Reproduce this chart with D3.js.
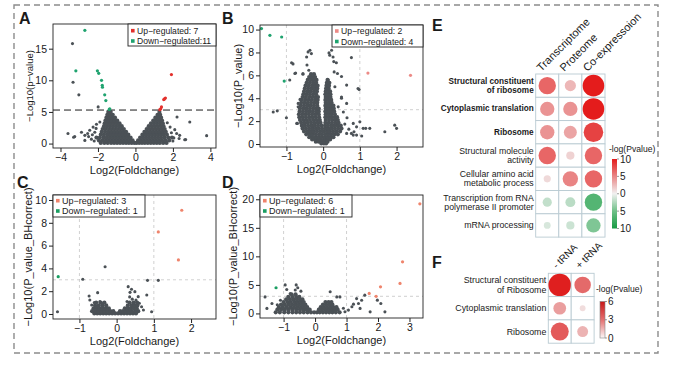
<!DOCTYPE html>
<html>
<head>
<meta charset="utf-8">
<script src="https://cdn.jsdelivr.net/npm/d3@7"></script>
<style>
  body { margin: 0; background: #fff; }
  text { font-family: "Liberation Sans", Arial, sans-serif; fill: #1a1a1a; }
</style>
</head>
<body>
<svg id="fig" width="680" height="371"></svg>
<script>
// ---------- DATA ----------
// A : transcriptome volcano, -log10(p-value)
const aUp = [[1.92,10.9],[1.6,7.2],[1.55,7.05],[1.51,6.95],[1.39,5.8],[1.35,5.5],[1.3,5.35]];
const aDown = [[-2.7,17.9],[-3.18,11.5],[-2.03,11.5],[-1.96,11.1],[-1.81,10.0],[-1.77,9.2],[-1.76,8.9],
  [-1.64,7.7],[-1.58,6.8],[-1.4,5.4],[-1.37,5.5]];
const aOutliers = [[-3.36,15.8],[-3.33,9.7],[-3.02,7.7],[-1.99,5.8],[-3.6,1.6],[-3.3,1.0],[-3.24,1.1],
  [-2.88,1.8],[-2.7,1.3],[-2.5,1.1],[-2.44,2.1],[-2.26,2.6],[-2.17,1.8],[-2.08,3.05],[-1.9,3.4],[-2.7,0.5],
  [-2.35,0.7],[-2.55,1.6],[-2.3,1.4],[-2.1,2.4],[-2.2,0.4],[2.22,4.2],[2.1,2.2],[2.9,3.4],[2.33,0.8],
  [2.68,0.63],[1.92,1.7],[3.8,1.25],[2.36,1.3],[2.63,0.6],[2.05,0.9],[2.2,1.6],[1.85,2.6],[1.7,3.3],[2.0,0.4]];
const aCloud = [
  [0.1, [-1.85,-1.66,-1.48,-1.3,-1.14,-0.98,-0.82,-0.66,-0.5,-0.35,-0.2,-0.06,0.06,0.2,0.35,0.5,0.66,0.82,0.98,1.14,1.3,1.48,1.66]],
  [0.5, [-1.95,-1.76,-1.58,-1.42,-1.26,-1.1,-0.94,-0.78,-0.62,-0.46,-0.3,-0.15,0.14,0.3,0.46,0.62,0.78,0.94,1.1,1.26,1.42,1.6,1.8]],
  [0.95,[-2.08,-1.9,-1.7,-1.53,-1.37,-1.21,-1.05,-0.89,-0.73,-0.57,-0.41,-0.26,0.25,0.41,0.57,0.73,0.89,1.05,1.21,1.37,1.55,1.75,1.95]],
  [1.4, [-1.85,-1.68,-1.5,-1.33,-1.17,-1.01,-0.85,-0.69,-0.53,-0.38,0.37,0.53,0.69,0.85,1.01,1.17,1.33,1.5,1.68]],
  [1.85,[-1.8,-1.62,-1.45,-1.29,-1.13,-0.97,-0.81,-0.65,-0.5,0.48,0.64,0.8,0.96,1.12,1.28,1.45,1.62]],
  [2.3, [-1.75,-1.58,-1.41,-1.25,-1.09,-0.93,-0.77,-0.62,0.6,0.76,0.92,1.08,1.24,1.4,1.56]],
  [2.75,[-1.68,-1.52,-1.36,-1.2,-1.04,-0.88,-0.73,0.71,0.87,1.03,1.19,1.35,1.5]],
  [3.2, [-1.64,-1.48,-1.32,-1.16,-1.0,-0.85,0.83,0.99,1.15,1.31,1.46]],
  [3.65,[-1.6,-1.44,-1.28,-1.12,-0.97,0.95,1.11,1.27,1.42]],
  [4.1, [-1.55,-1.4,-1.24,-1.09,1.06,1.22,1.37]],
  [4.55,[-1.5,-1.35,-1.21,1.18,1.32]],
  [5.0, [-1.45,-1.32,1.28]]
];

// B : proteome volcano, -log10(P_value)
const bUp = [[1.22,6.2],[2.38,6.0]];
const bDown = [[-1.68,10.09],[-1.45,9.5],[-1.13,9.35],[-1.06,5.5]];
const bOutliers = [[-1.36,2.8],[-1.25,2.9],[-1.0,2.3],[-0.7,1.8],[-0.41,8.05],[-0.36,8.2],[-0.45,7.6],
  [-0.86,7.1],[-0.44,6.9],[-0.75,6.2],[-0.55,6.1],[-0.91,5.6],[-0.39,6.45],[-0.63,3.9],[-0.68,3.25],
  [0.18,7.76],[0.29,7.2],[0.36,7.1],[0.3,6.3],[0.5,5.9],[0.77,7.55],[0.23,8.2],[0.14,5.6],[0.64,5.15],
  [0.95,4.85],[0.32,5.0],[0.5,4.1],[0.41,3.25],[0.55,2.8],[0.65,2.3],[0.59,1.74],[0.82,1.8],[0.91,1.5],
  [1.09,1.37],[1.27,1.37],[0.64,0.93],[0.82,0.78],[1.05,0.7],[0.7,1.3],[1.68,1.07],[1.95,1.65],[2.0,1.37],
  [1.0,1.94],[1.16,1.37],[0.98,4.77],[0.16,7.96],[0.27,7.6],[0.39,6.16],[-0.32,7.9],[-0.82,7.0],
  [-0.77,6.16],[-0.55,6.16],[-0.68,3.55],[-0.72,1.8],[0.64,3.55],[0.5,4.0],[0.77,0.93],[0.91,0.78],[0.84,1.07]];
const bCloud = [
  [0.05,[-0.05,0.02,0.08]],
  [0.2, [-0.2,-0.12,-0.04,0.04,0.12]],
  [0.4, [-0.3,-0.22,-0.14,-0.06,0.03,0.11,0.19]],
  [0.6, [-0.38,-0.3,-0.21,-0.13,-0.05,0.04,0.12,0.2,0.28]],
  [0.85,[-0.46,-0.37,-0.29,-0.2,-0.11,-0.03,0.06,0.14,0.22,0.31,0.4]],
  [1.1, [-0.52,-0.43,-0.34,-0.26,-0.17,-0.08,0.01,0.1,0.18,0.27,0.36,0.46]],
  [1.35,[-0.56,-0.47,-0.38,-0.29,-0.2,-0.12,-0.03,0.06,0.14,0.23,0.32,0.41,0.5]],
  [1.6, [-0.58,-0.5,-0.41,-0.32,-0.23,-0.14,-0.05,0.05,0.13,0.22,0.3,0.39,0.48]],
  [1.85,[-0.6,-0.51,-0.42,-0.33,-0.24,-0.15,-0.07,0.06,0.15,0.24,0.33,0.42]],
  [2.1, [-0.63,-0.54,-0.45,-0.36,-0.27,-0.18,-0.09,0.07,0.16,0.25,0.34,0.4]],
  [2.35,[-0.65,-0.56,-0.47,-0.38,-0.29,-0.2,-0.11,0.06,0.14,0.22,0.31,0.38]],
  [2.6, [-0.66,-0.57,-0.48,-0.39,-0.3,-0.21,-0.12,0.07,0.15,0.23,0.32]],
  [2.85,[-0.64,-0.55,-0.46,-0.37,-0.28,-0.19,-0.12,0.06,0.14,0.22,0.3]],
  [3.1, [-0.63,-0.54,-0.45,-0.36,-0.27,-0.18,-0.12,0.07,0.15,0.23,0.29]],
  [3.35,[-0.61,-0.52,-0.43,-0.34,-0.25,-0.16,0.06,0.14,0.22,0.28]],
  [3.6, [-0.6,-0.51,-0.42,-0.33,-0.24,-0.16,0.07,0.15,0.23]],
  [3.85,[-0.58,-0.49,-0.4,-0.31,-0.22,-0.15,0.06,0.14,0.22]],
  [4.1, [-0.56,-0.47,-0.38,-0.29,-0.2,-0.14,0.07,0.14,0.2]],
  [4.35,[-0.54,-0.45,-0.36,-0.27,-0.19,0.06,0.13,0.2]],
  [4.6, [-0.52,-0.43,-0.34,-0.25,-0.17,0.07,0.14,0.19]],
  [4.85,[-0.5,-0.41,-0.32,-0.23,-0.16,0.08,0.15]],
  [5.1, [-0.48,-0.39,-0.3,-0.22,-0.15,0.09,0.16]],
  [5.35,[-0.45,-0.36,-0.27,-0.19,0.1,0.17]],
  [5.6, [-0.42,-0.33,-0.25,-0.18,0.12]],
  [5.85,[-0.38,-0.3,-0.22]],
  [6.1, [-0.33,-0.25]]
];

// C : -log10(P_value_BHcorrect), first comparison
const cUp = [[1.12,7.2],[1.75,9.1],[1.66,4.74]];
const cDown = [[-1.57,3.27]];
const cOutliers = [[-0.31,4.15],[-0.91,3.05],[0.83,2.95],[1.12,2.95],[-1.59,0.2],[0.81,1.67],[0.94,0.2],
  [0.58,1.52],[0.52,1.23],[0.45,0.94],[0.61,0.94],[0.67,0.64],[0.31,2.4],[0.4,2.17],[0.49,1.96],
  [-0.74,1.58],[-0.72,1.23],[-0.67,0.79],[-0.51,1.87],[-0.45,1.1],[-0.38,0.9],[-0.55,0.6],[0.72,0.35],
  [0.35,1.5],[0.42,1.3],[-0.6,1.0],[0.36,1.9],[0.28,1.1]];
const cCloud = [
  [0.05,[-0.6,-0.52,-0.44,-0.36,-0.28,-0.2,-0.12,-0.04,0.04,0.12,0.2,0.28,0.36,0.44,0.52]],
  [0.25,[-0.66,-0.57,-0.49,-0.41,-0.33,-0.25,-0.17,-0.09,0.09,0.17,0.25,0.33,0.41,0.5,0.58]],
  [0.5, [-0.62,-0.53,-0.45,-0.37,-0.29,-0.21,0.22,0.3,0.38,0.46,0.54]],
  [0.75,[-0.58,-0.48,-0.38,-0.28,0.3,0.4,0.48,0.56]],
  [1.0, [-0.55,-0.43,-0.33,0.35,0.46,0.55]]
];

// D : -log10(P_value_BHcorrect), second comparison
const dUp = [[3.33,19.2],[2.78,9.05],[2.7,5.26],[2.08,4.67],[1.72,3.5],[1.94,3.0]];
const dDown = [[-1.24,4.5]];
const dOutliers = [[-0.95,5.0],[-0.6,5.0],[-0.63,4.1],[-0.79,3.5],[-1.53,0.88],[-1.37,1.75],[-1.59,2.9],
  [0.48,3.8],[0.69,2.9],[0.79,2.9],[1.32,2.6],[1.38,1.75],[1.48,2.3],[1.58,3.2],[1.43,0.88],[1.17,1.16],
  [1.06,0.58],[1.22,1.63],[1.75,0.28],[1.98,2.33],[2.22,0.28],[2.09,1.75],[-0.55,4.5],[-1.1,2.3],
  [-1.2,1.5],[0.9,0.9],[0.95,0.3],[-0.45,3.9],[-0.9,4.2]];
const dCloud = [
  [0.2, [-1.25,-1.12,-0.98,-0.85,-0.72,-0.6,-0.48,-0.36,-0.24,-0.13,-0.03,0.06,0.15,0.25,0.35,0.45,0.55,0.66,0.78]],
  [0.65,[-1.2,-1.08,-0.96,-0.84,-0.72,-0.6,-0.48,-0.37,-0.27,-0.17,0.12,0.22,0.32,0.42,0.52,0.62,0.72]],
  [1.1, [-1.15,-1.03,-0.91,-0.79,-0.67,-0.56,-0.45,-0.35,-0.25,0.18,0.28,0.38,0.48,0.58,0.68]],
  [1.55,[-1.08,-0.96,-0.84,-0.73,-0.62,-0.51,-0.41,-0.31,0.25,0.35,0.45,0.55]],
  [2.0, [-1.0,-0.88,-0.77,-0.66,-0.55,-0.45,-0.36,0.33,0.43,0.52]],
  [2.45,[-0.92,-0.8,-0.69,-0.58,-0.48,-0.4]],
  [2.9, [-0.85,-0.72,-0.6,-0.5]],
  [3.35,[-0.75,-0.62]]
];

// E : GO terms enrichment, signed -log(Pvalue)
const eTerms = ["Structural constituent\nof ribosome", "Cytoplasmic translation", "Ribosome",
  "Structural molecule\nactivity", "Cellular amino acid\nmetabolic process",
  "Transcription from RNA\npolymerase II promoter", "mRNA processing"];
const eColumns = ["Transcriptome", "Proteome", "Co-expressoion"];
const eValues = [[6.5,2.7,10],[4.4,4.4,10],[4.4,3.6,8.2],[6.5,1.45,6.5],[1.1,5.1,6.5],[-1.8,-2.1,-6.5],[-1.0,-1.45,-4.4]];
const eLegendTicks = ["10","5","0","5","10"];

// F : tRNA comparison, -log(Pvalue)
const fTerms = ["Structural constituent\nof Ribosome", "Cytoplasmic translation", "Ribosome"];
const fColumns = ["- tRNA", "+ tRNA"];
const fValues = [[6.0,3.2],[1.9,0.4],[3.8,1.4]];
const fLegendTicks = [6, 3, 0];

// ---------- DRAWING ----------
const svg = d3.select("#fig");
const GREY = "#4b5156";

svg.append("rect")
  .attr("x", 14).attr("y", 5).attr("width", 644).attr("height", 348)
  .attr("fill", "none").attr("stroke", "#8c8c8c").attr("stroke-width", 1.4)
  .attr("stroke-dasharray", "6,4");

function flatten(rows) {
  const out = [];
  rows.forEach(([yv, xs]) => xs.forEach(xv => out.push([xv, yv])));
  return out;
}

function volcano(c) {
  const [x0, y0, x1, y1] = c.box;
  const x = d3.scaleLinear().domain(c.xd).range([x0, x1]);
  const y = d3.scaleLinear().domain(c.yd).range([y1, y0]);
  const g = svg.append("g");

  // threshold lines
  if (c.vlines) c.vlines.forEach(v => g.append("line")
    .attr("x1", x(v)).attr("x2", x(v)).attr("y1", y0).attr("y2", y1)
    .attr("stroke", "#c4c4c4").attr("stroke-width", 0.8).attr("stroke-dasharray", "3,3"));
  const hl = g.append("line")
    .attr("x1", x0).attr("x2", x1).attr("y1", y(c.hline)).attr("y2", y(c.hline));
  if (c.darkLine) hl.attr("stroke", "#1a1a1a").attr("stroke-width", 1).attr("stroke-dasharray", "7,4");
  else hl.attr("stroke", "#c4c4c4").attr("stroke-width", 0.8).attr("stroke-dasharray", "3,3");

  // dense cloud (bigger dots so the mass reads as solid), then scattered genes
  g.selectAll(null).data(flatten(c.cloud)).enter().append("circle")
    .attr("cx", d => x(d[0])).attr("cy", d => y(d[1])).attr("r", 2.1).attr("fill", GREY);
  g.selectAll(null).data(c.gray).enter().append("circle")
    .attr("cx", d => x(d[0])).attr("cy", d => y(d[1])).attr("r", 1.55).attr("fill", GREY);
  g.selectAll(null).data(c.down).enter().append("circle")
    .attr("cx", d => x(d[0])).attr("cy", d => y(d[1])).attr("r", 1.6).attr("fill", c.downCol);
  g.selectAll(null).data(c.up).enter().append("circle")
    .attr("cx", d => x(d[0])).attr("cy", d => y(d[1])).attr("r", 1.6).attr("fill", c.upCol);

  g.append("rect").attr("x", x0).attr("y", y0).attr("width", x1 - x0).attr("height", y1 - y0)
    .attr("fill", "none").attr("stroke", "#222").attr("stroke-width", 0.9);

  const fmt = d3.format("d");
  const xa = g.append("g").attr("transform", `translate(0,${y1})`)
    .call(d3.axisBottom(x).tickValues(c.xt).tickSize(4).tickPadding(2).tickFormat(fmt));
  const ya = g.append("g").attr("transform", `translate(${x0},0)`)
    .call(d3.axisLeft(y).tickValues(c.yt).tickSize(4).tickPadding(2).tickFormat(fmt));
  [xa, ya].forEach(a => {
    a.select(".domain").remove();
    a.selectAll("line").attr("stroke", "#222");
    a.selectAll("text").attr("font-size", 10.5).attr("fill", "#1a1a1a")
      .attr("font-family", '"Liberation Sans", Arial, sans-serif');
  });

  g.append("text").attr("x", (x0 + x1) / 2).attr("y", y1 + 26)
    .attr("text-anchor", "middle").attr("font-size", 11).text("Log2(Foldchange)");
  g.append("text").attr("transform", `translate(${c.ylabX},${(y0 + y1) / 2}) rotate(-90)`)
    .attr("text-anchor", "middle").attr("dominant-baseline", "central")
    .attr("font-size", c.ylabSize).text(c.ylab);

  g.append("text").attr("x", c.letter[1]).attr("y", c.letter[2])
    .attr("font-size", 16).attr("font-weight", "bold").text(c.letter[0]);

  // legend
  const [lx0, ly0, lx1, ly1] = c.legBox;
  g.append("rect").attr("x", lx0).attr("y", ly0).attr("width", lx1 - lx0).attr("height", ly1 - ly0)
    .attr("fill", "#fff").attr("stroke", "#222").attr("stroke-width", 0.9);
  c.legText.forEach((t, i) => {
    const cy = c.legRows[i];
    g.append("rect").attr("x", lx0 + 3).attr("y", cy - 1.8).attr("width", 3.6).attr("height", 3.6)
      .attr("fill", i === 0 ? c.upCol : c.downCol);
    g.append("text").attr("x", lx0 + 9).attr("y", cy).attr("dominant-baseline", "central")
      .attr("font-size", c.legSize).text(t);
  });
}

volcano({ letter: ["A", 19, 24], box: [53, 24, 216, 148], xd: [-4.4, 4.3], yd: [-0.7, 18.9],
  xt: [-4, -2, 0, 2, 4], yt: [0, 5, 10, 15], cloud: aCloud, gray: aOutliers, up: aUp, down: aDown,
  upCol: "#e3302c", downCol: "#1fa36f", hline: 5.3, darkLine: true,
  ylab: "\u2212Log10(p\u2212value)", ylabX: 29, ylabSize: 9.5,
  legBox: [128, 24, 216, 46], legRows: [30.7, 41], legSize: 8.6,
  legText: ["Up\u2212regulated: 7", "Down\u2212regulated:11"] });

volcano({ letter: ["B", 222, 24], box: [260, 25, 423, 147], xd: [-1.72, 2.72], yd: [-0.26, 10.4],
  xt: [-1, 0, 1, 2], yt: [0, 2, 4, 6, 8, 10], cloud: bCloud, gray: bOutliers, up: bUp, down: bDown,
  upCol: "#ec8a86", downCol: "#1fa36f", hline: 3, vlines: [-1, 1],
  ylab: "\u2212Log10(P_value)", ylabX: 238, ylabSize: 11,
  legBox: [332, 25, 423, 47], legRows: [31, 41.5], legSize: 8.6,
  legText: ["Up\u2212regulated: 2", "Down\u2212regulated: 4"] });

volcano({ letter: ["C", 17, 188], box: [53, 195, 216, 319], xd: [-1.71, 2.67], yd: [-0.44, 10.44],
  xt: [-1, 0, 1, 2], yt: [0, 2, 4, 6, 8, 10], cloud: cCloud, gray: cOutliers, up: cUp, down: cDown,
  upCol: "#ef846c", downCol: "#1a9e62", hline: 3, vlines: [-1, 1],
  ylab: "\u2212Log10(P_value_BHcorrect)", ylabX: 28, ylabSize: 11,
  legBox: [53, 195, 145, 217], legRows: [200.7, 211], legSize: 9,
  legText: ["Up\u2212regulated: 3", "Down\u2212regulated: 1"] });

volcano({ letter: ["D", 222, 188], box: [260, 195, 423, 318], xd: [-1.75, 3.43], yd: [-0.8, 20.75],
  xt: [-1, 0, 1, 2, 3], yt: [0, 5, 10, 15, 20], cloud: dCloud, gray: dOutliers, up: dUp, down: dDown,
  upCol: "#ef846c", downCol: "#1a9e62", hline: 3, vlines: [-1, 1],
  ylab: "\u2212Log10(P_value_BHcorrect)", ylabX: 233, ylabSize: 11,
  legBox: [260, 195, 352, 217], legRows: [200.7, 211], legSize: 9,
  legText: ["Up\u2212regulated: 6", "Down\u2212regulated: 1"] });

// ---- dot matrix (corrplot style) ----
function dotMatrix(c) {
  const g = svg.append("g");
  const cols = d3.scaleBand().domain(c.columns).range([c.left, c.left + c.cw * c.columns.length]);
  const rows = d3.scaleBand().domain(c.terms).range([c.top, c.top + c.rh * c.terms.length]);

  c.terms.forEach((t, i) => {
    c.columns.forEach((col, j) => {
      g.append("rect").attr("x", cols(col)).attr("y", rows(t))
        .attr("width", cols.bandwidth()).attr("height", rows.bandwidth())
        .attr("fill", "#fff").attr("stroke", "#b9cad2").attr("stroke-width", 0.9);
      const v = c.values[i][j];
      g.append("circle")
        .attr("cx", cols(col) + cols.bandwidth() / 2).attr("cy", rows(t) + rows.bandwidth() / 2)
        .attr("r", c.radius(Math.abs(v))).attr("fill", c.color(v));
    });
    const lines = t.split("\n");
    const cy = rows(t) + rows.bandwidth() / 2;
    lines.forEach((ln, k) => {
      g.append("text").attr("x", c.left - 2)
        .attr("y", cy + (k - (lines.length - 1) / 2) * c.lineH)
        .attr("text-anchor", "end").attr("dominant-baseline", "central")
        .attr("font-size", i < c.bold ? c.boldSize : c.labSize)
        .attr("font-weight", i < c.bold ? "bold" : "normal").text(ln);
    });
  });

  c.columns.forEach(col => {
    g.append("text")
      .attr("transform", `translate(${cols(col) + cols.bandwidth() / 2 + c.hdx},${c.top + c.hdy}) rotate(-45)`)
      .attr("font-size", c.hdSize).text(col);
  });

  g.append("text").attr("x", c.letter[1]).attr("y", c.letter[2])
    .attr("font-size", 16).attr("font-weight", "bold").text(c.letter[0]);
}

const eColor = d3.scaleLinear().domain([-10, -5, 0, 5, 10])
  .range(["#169a43", "#6fc088", "#f1f1f1", "#e98686", "#e41c1c"]);
const eRadius = d3.scaleSqrt().domain([0, 10]).range([0, 10.8]);

dotMatrix({ terms: eTerms, columns: eColumns, values: eValues, left: 535.7, top: 74, cw: 23.1, rh: 23.3,
  color: eColor, radius: eRadius, bold: 3, boldSize: 8.2, labSize: 8.7, lineH: 9,
  hdx: -6, hdy: -2, hdSize: 11, letter: ["E", 432, 31] });

const fColor = d3.scaleLinear().domain([0, 3, 6]).range(["#f3eeee", "#e46f6f", "#df1f1f"]);
const fRadius = d3.scaleSqrt().domain([0, 6]).range([0, 11.3]);

dotMatrix({ terms: fTerms, columns: fColumns, values: fValues, left: 548.3, top: 273.3, cw: 22.9, rh: 23.3,
  color: fColor, radius: fRadius, bold: 0, boldSize: 8.8, labSize: 8.8, lineH: 10.5,
  hdx: -3, hdy: -4, hdSize: 10, letter: ["F", 432, 268] });

// ---- colour bars ----
const defs = svg.append("defs");
function gradient(id, stops) {
  const lg = defs.append("linearGradient").attr("id", id)
    .attr("x1", 0).attr("y1", 0).attr("x2", 0).attr("y2", 1);
  stops.forEach(([o, col]) => lg.append("stop").attr("offset", o).attr("stop-color", col));
}
gradient("gE", [[0, eColor(10)], [0.25, eColor(5)], [0.5, eColor(0)], [0.75, eColor(-5)], [1, eColor(-10)]]);
gradient("gF", [[0, "#c81616"], [0.5, fColor(3)], [1, "#fbf8f8"]]);

function colorBar(c) {
  const g = svg.append("g");
  const y = d3.scaleLinear().domain([0, c.labels.length - 1]).range([c.y0, c.y1]);
  g.append("text").attr("x", c.titleX).attr("y", c.titleY).attr("dominant-baseline", "central")
    .attr("font-size", 8.6).text("-log(Pvalue)");
  g.append("rect").attr("x", c.x).attr("y", c.y0).attr("width", c.w).attr("height", c.y1 - c.y0)
    .attr("fill", `url(#${c.grad})`).attr("stroke", c.outline || "none").attr("stroke-width", 0.6);
  c.labels.forEach((t, i) => {
    g.append("line").attr("x1", c.x + c.w).attr("x2", c.x + c.w + 2).attr("y1", y(i)).attr("y2", y(i))
      .attr("stroke", "#555").attr("stroke-width", 0.6);
    g.append("text").attr("x", c.x + c.w + 3).attr("y", y(i)).attr("dominant-baseline", "central")
      .attr("font-size", 10).text(t);
  });
}
colorBar({ labels: eLegendTicks, x: 612, w: 5, y0: 159, y1: 228.5, grad: "gE", titleX: 609, titleY: 149 });
colorBar({ labels: fLegendTicks, x: 600, w: 5, y0: 301.5, y1: 338, grad: "gF", titleX: 596, titleY: 289,
  outline: "#888" });
</script>
</body>
</html>
